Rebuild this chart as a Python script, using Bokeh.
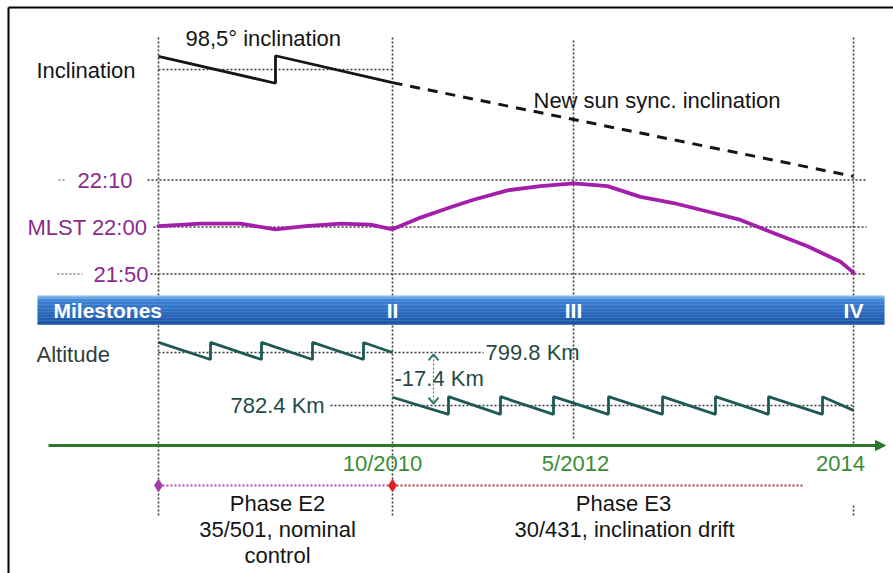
from bokeh.plotting import figure
from bokeh.models import Range1d, Arrow, NormalHead
from bokeh.core.properties import value
from bokeh.embed import file_html
from bokeh.resources import INLINE

# ---------------------------------------------------------------------------
# Envisat extension: schematic timeline (positions along the time axis)
# ---------------------------------------------------------------------------
milestone_pos = [158, 392, 573, 853]          # I (start E2), II, III, IV
milestone_names = ["", "II", "III", "IV"]
milestone_dates = ["", "10/2010", "5/2012", "2014"]

# Inclination (deg): controlled phase E2, then free drift in E3
ref_incl = 98.5
incl_x = [158, 275, 275, 392]
incl_deg = [98.521, 98.478, 98.522, 98.479]
drift_x = [392, 853]
drift_deg = [98.479, 98.329]

# Mean local solar time (minutes after midnight)
mlst_levels = [1330, 1320, 1310]
mlst_labels = ["22:10", "MLST 22:00", "21:50"]
mlst_x = [158, 200, 240, 275, 305, 340, 370, 392, 420, 450, 473, 507,
          540, 573, 607, 640, 673, 707, 740, 773, 807, 840, 853]
mlst_min = [1320.2, 1320.7, 1320.7, 1319.5, 1320.2, 1320.7, 1320.5, 1319.5,
            1322.0, 1324.2, 1325.8, 1327.8, 1328.7, 1329.3, 1328.7, 1326.4,
            1325.1, 1323.3, 1321.5, 1318.7, 1315.9, 1312.6, 1310.3]

# Altitude (km): 799.8 km reference, lowered by 17.4 km to 782.4 km
alt_high = 799.8
alt_low = 782.4
alt_e2_x = [158, 210, 210, 261, 261, 312, 312, 363, 363, 392]
alt_e2_km = [803.1, 797.5, 803.1, 797.5, 803.1, 797.5, 803.1, 797.5, 803.1, 799.8]
alt_e3_x = [392, 448, 448, 500, 500, 553, 553, 608, 608, 662, 662, 715,
            715, 768, 768, 822, 822, 853]
alt_e3_km = [785.1, 779.5, 785.3, 779.5, 785.3, 779.5, 785.3, 779.5, 785.3,
             779.5, 785.3, 779.5, 785.3, 779.5, 785.3, 779.5, 785.3, 780.8]

phase_names = ["Phase E2", "Phase E3"]
phase_notes = [["35/501, nominal", "control"], ["30/431, inclination drift"]]

# ---------------------------------------------------------------------------
W, H = 893, 573
FONT = value("Liberation Sans")
BLACK = "#151515"
PURPLE_LINE = "#a41fa9"
PURPLE_TXT = "#8c2a8c"
TEAL = "#1d5a55"
TEAL_TXT = "#1f4b48"
GREEN = "#2a7a2a"
GREEN_TXT = "#3b8c36"
DOT = "#3a3a3a"

p = figure(width=W, height=H, x_range=Range1d(0, W), y_range=Range1d(H, 0),
           output_backend="svg", toolbar_location=None,
           x_axis_location=None, y_axis_location=None, min_border=0)
p.min_border_left = p.min_border_right = p.min_border_top = p.min_border_bottom = 0
p.outline_line_color = None
p.background_fill_color = "white"
p.border_fill_color = "white"
p.xgrid.grid_line_color = None
p.ygrid.grid_line_color = None


def band(v_at, py_at, per_px):
    """Range for a band whose value v_at sits at vertical position py_at."""
    return Range1d(start=v_at - (H - py_at) * per_px, end=v_at + py_at * per_px)


p.extra_y_ranges = {
    "incl": band(ref_incl, 69, 0.0016),
    "mlst": band(1320, 226.5, 1 / 4.7),
    "alt": band(alt_high, 352, 1 / 3.046),
}


def txt(x, y, s, color=BLACK, size="22px", align="left", style="normal", rng="default"):
    p.text(x=[x], y=[y], text=[s], text_color=color, text_font=FONT,
           text_font_size=size, text_align=align, text_baseline="middle",
           text_font_style=style, y_range_name=rng)


# frame edges
p.line([8, W], [7, 7], line_color="black", line_width=2)
p.line([8, 8], [7, H], line_color="black", line_width=2)

# vertical milestone guides
v_top = [37, 37, 40, 37]
v_bot = [517, 517, 440, 443]
p.segment(x0=milestone_pos, y0=v_top, x1=milestone_pos, y1=v_bot,
          line_color=DOT, line_width=1.6, line_dash="2 2")
p.segment(x0=[milestone_pos[3]], y0=[505], x1=[milestone_pos[3]], y1=[517],
          line_color=DOT, line_width=1.6, line_dash="2 2")

# ---- inclination -----------------------------------------------------------
p.segment(x0=[158], y0=[ref_incl], x1=[392], y1=[ref_incl], y_range_name="incl",
          line_color=DOT, line_width=1.6, line_dash="2 2")
p.line(incl_x, incl_deg, y_range_name="incl", line_color=BLACK, line_width=2.8)
p.line(drift_x, drift_deg, y_range_name="incl", line_color=BLACK, line_width=3,
       line_dash="10 8")
txt(185, 38, "98,5° inclination")
txt(36, 70, "Inclination")
txt(533, 100, "New sun sync. inclination")

# ---- MLST ------------------------------------------------------------------
p.segment(x0=[147, 153, 150], y0=mlst_levels, x1=[866, 866, 866], y1=mlst_levels,
          y_range_name="mlst", line_color=DOT, line_width=1.6, line_dash="2 2")
p.segment(x0=[58, 57], y0=[mlst_levels[0], mlst_levels[2]], x1=[66, 82],
          y1=[mlst_levels[0], mlst_levels[2]], y_range_name="mlst",
          line_color="#888888", line_width=1.4, line_dash="2 2")
p.line(mlst_x, mlst_min, y_range_name="mlst", line_color=PURPLE_LINE,
       line_width=3.8, line_join="round", line_cap="round")
for lx, lev, lab in zip([77, 27, 93], mlst_levels, mlst_labels):
    txt(lx, lev, lab, color=PURPLE_TXT, rng="mlst")

# ---- milestones bar --------------------------------------------------------
bar_top, bar_bot, bar_l, bar_r = 295.0, 324.0, 37, 884
n = 20
step = (bar_bot - bar_top) / n
for i in range(n):
    t = (i + 0.5) / n
    if t < 0.15:
        a = t / 0.15
        c0, c1 = (150, 196, 240), (62, 132, 215)
    else:
        a = (t - 0.15) / 0.85
        c0, c1 = (62, 132, 215), (27, 82, 165)
    col = tuple(int(c0[k] + (c1[k] - c0[k]) * a) for k in range(3))
    p.quad(left=[bar_l], right=[bar_r], top=[bar_top + i * step],
           bottom=[bar_top + (i + 1) * step + 0.3], fill_color="#%02x%02x%02x" % col,
           line_color=None)
txt(53, 310, "Milestones", color="white", size="21px", style="bold")
for mx, name in zip(milestone_pos, milestone_names):
    if name:
        txt(mx, 310, name, color="white", size="21px", style="bold", align="center")

# ---- altitude --------------------------------------------------------------
p.segment(x0=[158, 330], y0=[alt_high, alt_low], x1=[483, 853], y1=[alt_high, alt_low],
          y_range_name="alt", line_color=DOT, line_width=1.6, line_dash="2 2")
p.line(alt_e2_x, alt_e2_km, y_range_name="alt", line_color=TEAL, line_width=2.8)
p.line(alt_e3_x, alt_e3_km, y_range_name="alt", line_color=TEAL, line_width=2.8)
# lowering of the orbit
p.segment(x0=[433], y0=[alt_high - 1.0], x1=[433], y1=[alt_low + 1.0],
          y_range_name="alt", line_color="#3c8a82", line_width=1.2, line_dash="2 2")
p.line([428, 433, 438], [alt_high - 2.6, alt_high - 0.6, alt_high - 2.6],
       y_range_name="alt", line_color="#2d7a72", line_width=2)
p.line([428, 433, 438], [alt_low + 2.6, alt_low + 0.6, alt_low + 2.6],
       y_range_name="alt", line_color="#2d7a72", line_width=2)
txt(36, 354, "Altitude", color="#2e3e3d")
txt(485, alt_high, "799.8 Km", color=TEAL_TXT, rng="alt")
txt(394, 378, "-17.4 Km", color=TEAL_TXT)
txt(230, alt_low, "782.4 Km", color=TEAL_TXT, rng="alt")

# ---- time axis -------------------------------------------------------------
p.add_layout(Arrow(end=NormalHead(size=10, fill_color=GREEN, line_color=GREEN),
                   x_start=48, y_start=445, x_end=885, y_end=445,
                   line_color=GREEN, line_width=3.2))
for cx, d in zip([382, 575, 840], milestone_dates[1:]):
    txt(cx, 463, d, color=GREEN_TXT, align="center")

# ---- phases ----------------------------------------------------------------
p.segment(x0=[158], y0=[485], x1=[392], y1=[485], line_color="#b048b0",
          line_width=2, line_dash="2 2")
p.segment(x0=[392], y0=[485], x1=[802], y1=[485], line_color="#b83a3a",
          line_width=2, line_dash="2 2")
p.scatter([158], [485], marker="diamond", size=12, fill_color="#a43aaa", line_color="#a43aaa")
p.scatter([392], [485], marker="diamond", size=12, fill_color="#e02020", line_color="#e02020")
txt(277, 503, phase_names[0], align="center")
txt(277, 529, phase_notes[0][0], align="center")
txt(277, 555, phase_notes[0][1], align="center")
txt(623, 503, phase_names[1], align="center")
txt(624, 529, phase_notes[1][0], align="center")

open("out.html", "w").write(file_html(p, INLINE))
